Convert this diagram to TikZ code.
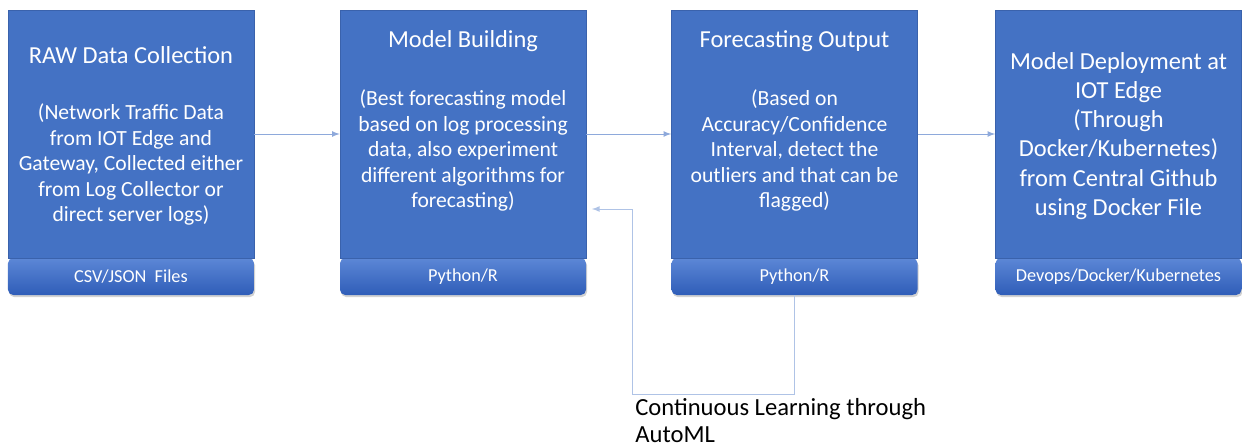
\documentclass[tikz,border=0pt]{standalone}
\usepackage{fontspec}
\setmainfont{Carlito}
\usetikzlibrary{shadows}

\definecolor{boxblue}{HTML}{4472C4}
\definecolor{boxedge}{HTML}{3A62AC}
\definecolor{bartop}{HTML}{5C87D6}
\definecolor{barbottom}{HTML}{2F5DB8}
\definecolor{flowline}{HTML}{8EA9DB}
\definecolor{loopline}{HTML}{AFC3E6}

\tikzset{
  stagebox/.style={draw=boxedge, line width=0.4pt, fill=boxblue, minimum width=4.92cm, minimum height=4.96cm, inner sep=0pt},
  toolbar/.style={rounded corners=3pt, top color=bartop, bottom color=barbottom, draw=none, minimum width=4.92cm, minimum height=0.74cm, inner sep=0pt, drop shadow={opacity=0.35, shadow xshift=0.6pt, shadow yshift=-1.2pt}},
  boxtitle/.style={text=white, align=center, font=\fontsize{13.9pt}{16.6pt}\selectfont},
  boxbody/.style={text=white, align=center, font=\fontsize{12.3pt}{14.5pt}\selectfont},
  bartext/.style={text=white, font=\fontsize{10.4pt}{12pt}\selectfont},
  flow/.style={draw=flowline, line width=0.5pt, -latex},
}

\begin{document}
\begin{tikzpicture}
\fill [color=white] (0, 0) rectangle (24.84, -8.92);

% bars first, so the boxes sit over their top edge
\node (rawbar) at (2.62, -5.53) [toolbar] {};
\node (modelbar) at (9.26, -5.53) [toolbar] {};
\node (fcbar) at (15.89, -5.53) [toolbar] {};
\node (deploybar) at (22.37, -5.53) [toolbar] {};

\node (raw) at (2.62, -2.68) [stagebox] {};
\node (model) at (9.26, -2.68) [stagebox] {};
\node (fc) at (15.89, -2.68) [stagebox] {};
\node (deploy) at (22.37, -2.68) [stagebox] {};

\node (rawtitle) at (2.62, -1.1) [boxtitle] {RAW Data Collection};
\node (rawbody) at (2.62, -3.29) [boxbody] {(Network Traffic Data\\from IOT Edge and\\Gateway, Collected either\\from Log Collector or\\direct server logs)};
\node (modeltitle) at (9.26, -0.82) [boxtitle] {Model Building};
\node (modelbody) at (9.26, -3.01) [boxbody] {(Best forecasting model\\based on log processing\\data, also experiment\\different algorithms for\\forecasting)};
\node (fctitle) at (15.89, -0.82) [boxtitle] {Forecasting Output};
\node (fcbody) at (15.89, -3.01) [boxbody] {(Based on\\Accuracy/Confidence\\Interval, detect the\\outliers and that can be\\flagged)};
\node (deploytext) at (22.37, -2.72) [boxtitle] {Model Deployment at\\IOT Edge\\(Through\\Docker/Kubernetes)\\from Central Github\\using Docker File};

\node (rawtool) at (rawbar) [bartext] {CSV/JSON\ \ Files};
\node (modeltool) at (modelbar) [bartext] {Python/R};
\node (fctool) at (fcbar) [bartext] {Python/R};
\node (deploytool) at (deploybar) [bartext] {Devops/Docker/Kubernetes};

\draw [flow] (raw.east) -- (model.west);
\draw [flow] (model.east) -- (fc.west);
\draw [flow] (fc.east) -- (deploy.west);

% feedback loop back into model building
\coordinate (loopfoot) at (12.64, -7.88);
\coordinate (loopend) at (11.84, -4.18);
\draw [draw=loopline, line width=0.5pt] (fcbar.south) |- (loopfoot) -- (12.64, -4.18);
\draw [flow, draw=loopline] (12.64, -4.18) -- (loopend);
\node (looplabel) at (12.7, -7.96) [anchor=north west, inner sep=0pt, align=left, font=\fontsize{14pt}{15.3pt}\selectfont] {Continuous Learning through\\AutoML};
\end{tikzpicture}
\end{document}
